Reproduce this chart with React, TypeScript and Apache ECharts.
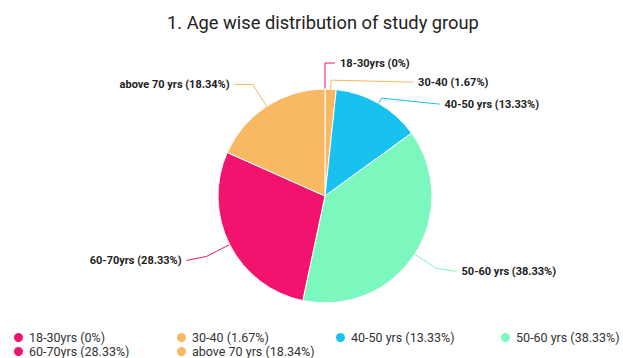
import React, { useEffect, useRef } from "react";
import * as echarts from "echarts";

// Age groups and their share of the study group (percent)
const categories = ["18-30yrs", "30-40", "40-50 yrs", "50-60 yrs", "60-70yrs", "above 70 yrs"];
const shares = [0, 1.67, 13.33, 38.33, 28.33, 18.34];
const shareLabels = ["0%", "1.67%", "13.33%", "38.33%", "28.33%", "18.34%"];

const palette = ["#F1136E", "#F9B862", "#19C2EE", "#7CF8BE"];

// Label line lengths per slice (radial part, horizontal part)
const lineLengths: [number, number][] = [
  [26, 10],
  [9, 82],
  [6, 58],
  [26, 20],
  [26, 20],
  [26, 18],
];

// Extra vertical nudge of each label (the line's tail follows it)
const labelNudge = [0, 2, 6, 3, 4, 0];

// Legend cell placement: [left, top]
const legendCells: [number, number][] = [
  [12, 331],
  [175, 331],
  [334, 331],
  [499, 331],
  [12, 345],
  [175, 345],
];

const FONT = "Roboto, 'Noto Sans', sans-serif";

export default function App() {
  const ref = useRef<HTMLDivElement>(null);

  useEffect(() => {
    if (!ref.current) return;
    const chart = echarts.init(ref.current, null, { renderer: "svg" });

    const names = categories.map((c, i) => `${c} (${shareLabels[i]})`);

    const data = shares.map((v, i) => ({
      name: names[i],
      value: v,
      labelLine: { length: lineLengths[i][0], length2: lineLengths[i][1] },
    }));

    const legends = names.map((n, i) => ({
      data: [n],
      left: legendCells[i][0],
      top: legendCells[i][1],
      padding: 0,
      icon: "circle",
      itemWidth: 11,
      itemHeight: 11,
      itemGap: 0,
      selectedMode: false,
      textStyle: { fontFamily: FONT, fontSize: 12.5, color: "#333" },
    }));

    chart.setOption({
      animation: false,
      color: palette,
      title: {
        text: "1. Age wise distribution of study group",
        left: 167,
        top: 13,
        padding: 0,
        textStyle: { fontFamily: FONT, fontSize: 18.3, fontWeight: "normal", color: "#222" },
      },
      legend: legends,
      series: [
        {
          type: "pie",
          center: [325, 196],
          radius: 107,
          startAngle: 89.99,
          clockwise: true,
          avoidLabelOverlap: true,
          itemStyle: { borderColor: "#fff", borderWidth: 1 },
          label: {
            show: true,
            formatter: "{b}",
            fontFamily: FONT,
            fontSize: 11,
            fontWeight: "bold",
            color: "#222",
            distanceToLabelLine: 5,
          },
          labelLine: { show: true, lineStyle: { width: 1 } },
          labelLayout: (params: any) => {
            const dy = labelNudge[params.dataIndex] || 0;
            const pts = params.labelLinePoints;
            if (!dy || !pts) return {};
            const moved = pts.map((p: number[], k: number) =>
              k === pts.length - 1 ? [p[0], p[1] + dy] : [p[0], p[1]]
            );
            return { dy, labelLinePoints: moved };
          },
          emphasis: { disabled: true },
          data,
        },
      ],
    });

    return () => chart.dispose();
  }, []);

  return (
    <div
      ref={ref}
      style={{ position: "fixed", left: 0, top: 0, width: 623, height: 358, background: "#fff" }}
    />
  );
}
